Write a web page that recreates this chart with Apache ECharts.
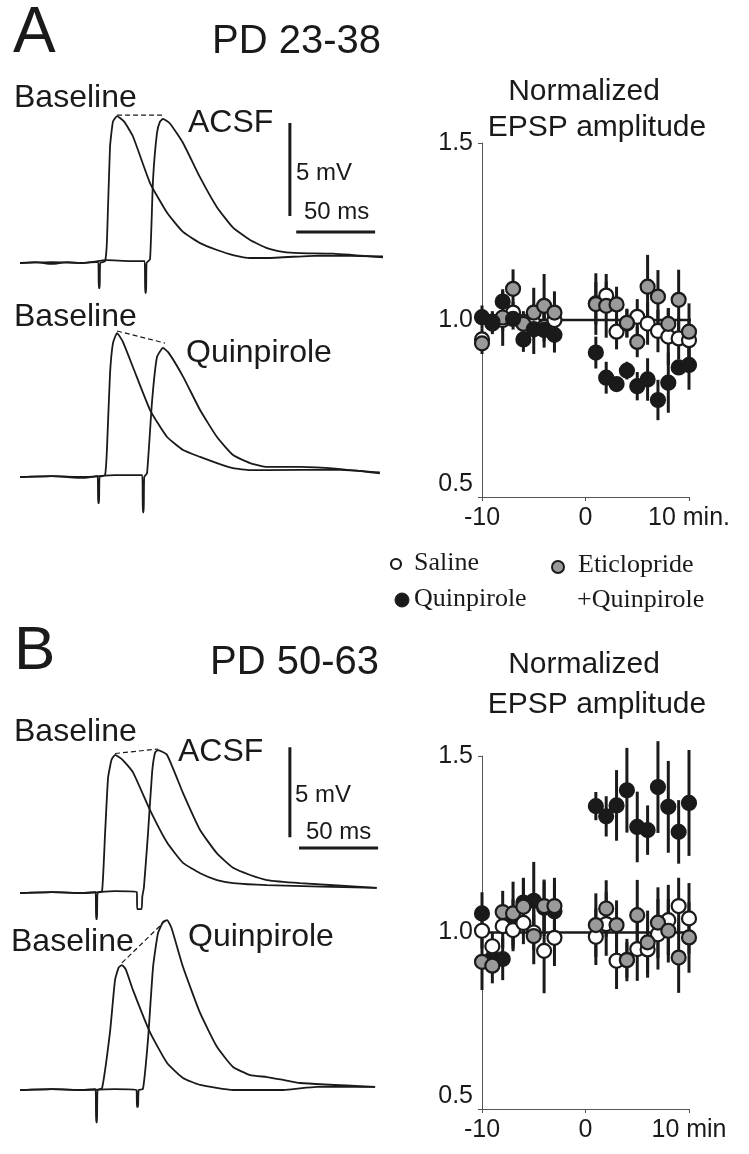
<!DOCTYPE html>
<html><head><meta charset="utf-8">
<script src="https://cdn.jsdelivr.net/npm/echarts@6/dist/echarts.min.js"></script>
<style>html,body{margin:0;padding:0;background:#fff}#c{width:749px;height:1154px}</style>
</head><body><div id="c"></div>
<script>
// ---------- DATA ----------
const minutes = [-10,-9,-8,-7,-6,-5,-4,-3,1,2,3,4,5,6,7,8,9,10];
const yTicks = [0.5, 1.0, 1.5];

// Panel A (PD 23-38)
const aSaline    = [0.945,0.99,1.0,1.021,0.995,0.99,0.98,1.0, 1.047,1.069,0.967,0.99,1.009,0.99,0.969,0.953,0.948,0.943];
const aSalineErr = [0.03,0.03,0.03,0.03,0.03,0.04,0.04,0.04, 0.06,0.04,0.05,0.04,0.05,0.06,0.06,0.08,0.06,0.06];
const aQuin      = [1.008,0.995,1.052,1.003,0.945,0.974,0.972,0.958, 0.908,0.837,0.819,0.857,0.813,0.832,0.774,0.823,0.866,0.873];
const aQuinErr   = [0.033,0.03,0.03,0.03,0.035,0.07,0.05,0.05, 0.045,0.045,0.02,0.025,0.04,0.06,0.057,0.085,0.02,0.07];
const aEtic      = [0.934,0.995,1.007,1.088,0.989,1.021,1.04,1.021, 1.045,1.04,1.044,0.992,0.938,1.094,1.066,0.989,1.057,0.967];
const aEticErr   = [0.03,0.025,0.08,0.055,0.02,0.07,0.09,0.06, 0.087,0.09,0.05,0.04,0.043,0.09,0.075,0.045,0.085,0.08];

// Panel B (PD 50-63)
const bSaline    = [1.005,0.961,1.018,1.007,1.027,1.0,0.948,0.985, 0.988,1.024,0.92,0.922,0.953,0.952,0.995,1.035,1.075,1.04];
const bSalineErr = [0.05,0.04,0.06,0.06,0.06,0.05,0.12,0.08, 0.08,0.09,0.08,0.06,0.09,0.08,0.1,0.1,0.08,0.1];
const bQuin      = [1.054,0.928,0.925,1.024,1.085,1.09,1.07,1.06, 1.358,1.329,1.36,1.403,1.299,1.29,1.412,1.356,1.285,1.367];
const bQuinErr   = [0.06,0.03,0.06,0.07,0.07,0.11,0.08,0.08, 0.04,0.057,0.1,0.12,0.1,0.07,0.13,0.13,0.09,0.15];
const bEtic      = [0.917,0.906,1.058,1.054,1.073,0.99,1.075,1.075, 1.021,1.068,1.021,0.922,1.049,0.972,1.028,1.005,0.929,0.986];
const bEticErr   = [0.08,0.05,0.06,0.09,0.08,0.08,0.07,0.08, 0.09,0.08,0.07,0.05,0.1,0.09,0.1,0.09,0.1,0.1];

// EPSP traces: [time ms, mV]
const traceA1Base = [[0,0],[10,0.05],[20,-0.05],[30,0.05],[40,0],[49.6,0.05],[49.9,-1.35],[50.5,-1.35],[50.8,0],[53.9,0.1],[55.1,1.2],[57,6.2],[58.9,7.6],[61.5,7.9],[66,7.6],[71.6,6.8],[82.4,4.3],[93.2,2.7],[103.3,1.67],[114.1,1.07],[124.8,0.7],[135,0.43],[145.8,0.27],[156.5,0.27],[190,0.4],[230,0.35]];
const traceA1Acsf = [[0,0],[20,0.05],[40,0],[55,0.15],[70,0.1],[79,0.1],[79.3,-1.6],[79.9,-1.6],[80.2,0],[82.4,0.2],[84.3,4.5],[86.8,7.0],[88.7,7.6],[90.6,7.75],[95,7.5],[103.3,6.45],[114.1,4.6],[124.8,3.0],[135,1.9],[145.8,1.24],[156.5,0.8],[166.7,0.6],[177.4,0.53],[198.4,0.5],[230,0.3]];
const dashA1 = [[61.5,7.95],[90.6,7.95]];
const traceA2Base = [[0,0],[20,0.05],[40,-0.05],[49.2,0.05],[49.5,-1.4],[50.1,-1.4],[50.4,0],[53.9,0.1],[55.1,1.5],[57,5.5],[58.9,7.2],[61.5,7.74],[65,7.3],[71.6,5.9],[82.4,3.6],[93.2,2.15],[103.3,1.45],[114.1,1.08],[124.8,0.75],[135,0.48],[145.8,0.37],[156.5,0.37],[200,0.4],[228,0.25]];
const traceA2Quin = [[0,0],[20,0.05],[40,0],[60,0.1],[77.5,0.1],[77.8,-1.9],[78.4,-1.9],[78.7,0],[80.5,0.2],[83.7,4.1],[86.8,6.45],[90.6,6.94],[94,6.7],[103.3,5.4],[114.1,3.6],[124.8,2.15],[135,1.18],[145.8,0.75],[156.5,0.54],[177.4,0.54],[200,0.45],[228,0.2]];
const dashA2 = [[61.5,7.85],[91.9,7.2]];
const traceB1Base = [[0,0],[20,0.05],[40,0],[47.9,0.05],[48.2,-1.45],[48.8,-1.45],[49.1,0],[52,0.1],[53.9,3.3],[55.8,6.4],[58,7.4],[60.2,7.67],[65,7.4],[71.6,6.7],[82.4,4.6],[93.2,2.8],[103.3,1.67],[114.1,1.1],[124.8,0.72],[135,0.55],[156.5,0.44],[226,0.28]];
const traceB1Acsf = [[0,0],[20,0.05],[40,0],[60,0.1],[74,0.05],[74.3,-0.9],[77,-0.9],[77.5,-0.2],[78.5,0.3],[81.1,3.3],[83.7,6.7],[85.6,7.8],[87.4,7.94],[93.2,7.67],[103.3,5.55],[114.1,3.5],[124.8,2.2],[135,1.4],[145.8,1.0],[156.5,0.72],[177.4,0.55],[226,0.28]];
const dashB1 = [[60.2,7.75],[87.4,8.0]];
const traceB2Base = [[0,0],[20,0.05],[40,0],[47.9,0.05],[48.2,-1.8],[48.8,-1.8],[49.1,0],[52,0.1],[57,3.2],[60.2,6.1],[62.5,6.8],[64.6,6.94],[67,6.7],[71.6,5.55],[82.4,3.2],[93.2,1.5],[103.3,0.67],[114.1,0.28],[135,0],[166.7,0],[188,0.17],[225,0.17]];
const traceB2Quin = [[0,0],[20,0.05],[40,0],[60,0.05],[73.8,0],[74.1,-0.94],[74.8,-0.94],[75.2,0],[77.9,0.05],[81.1,2.8],[84.3,6.83],[87.4,8.7],[90.6,9.33],[93.2,9.44],[96,9.0],[103.3,6.83],[114.1,4.28],[124.8,2.4],[135,1.28],[145.8,0.83],[156.5,0.72],[166.7,0.56],[177.4,0.39],[225,0.17]];
const dashB2 = [[64.6,7.06],[92.5,9.44]];

// scale bars: 5 mV and 50 ms
const scaleA_V = [[171,2.53],[171,7.53]];
const scaleA_H = [[175,1.67],[225,1.67]];
const scaleB_V = [[171,3.1],[171,8.1]];
const scaleB_H = [[176.8,2.5],[226.9,2.5]];

// ---------- CHART ----------
const INK = '#1a1a1a';
const SANS = '"Liberation Sans", Arial, sans-serif';
const SERIF = '"Liberation Serif", "Times New Roman", serif';

const chart = echarts.init(document.getElementById('c'), null, {renderer:'canvas'});

const traceGrids = [
  {left:20, top:77, width:363, height:241.8},
  {left:20, top:291, width:363, height:241.8},
  {left:20, top:713, width:363, height:234},
  {left:20, top:910, width:363, height:234}
];
const scatterGrids = [
  {left:482, top:143, width:207, height:354},
  {left:482, top:756, width:207, height:353}
];
const grids = traceGrids.concat(scatterGrids);

const xAxes = [], yAxes = [];
traceGrids.forEach((g,i)=>{
  xAxes.push({gridIndex:i, type:'value', min:0, max:230, show:false});
  yAxes.push({gridIndex:i, type:'value', min:-3, max:10, show:false});
});
[4,5].forEach((gi,k)=>{
  xAxes.push({gridIndex:gi, type:'value', min:-10, max:10, interval:10,
    axisLine:{show:true, onZero:false, lineStyle:{color:'#555', width:1}},
    axisTick:{show:true, length:4, lineStyle:{color:'#555'}},
    splitLine:{show:false},
    axisLabel:{color:INK, fontSize:25, fontFamily:SANS, margin:9,
      formatter:v=> v===10 ? (k===0 ? '10 min.' : '10 min') : String(v)}
  });
  yAxes.push({gridIndex:gi, type:'value', min:yTicks[0], max:yTicks[2], interval:0.5,
    axisLine:{show:true, onZero:false, lineStyle:{color:'#555', width:1}},
    axisTick:{show:true, length:4, lineStyle:{color:'#555'}},
    splitLine:{show:false},
    axisLabel:{color:INK, fontSize:25, fontFamily:SANS, margin:9, verticalAlignMinLabel:'bottom',
      formatter:v=>v.toFixed(1)}
  });
});

const series = [];
function trace(gi, data, opts){
  series.push(Object.assign({type:'line', xAxisIndex:gi, yAxisIndex:gi, data:data, symbol:'none',
    clip:false, silent:true, smooth:0.15,
    lineStyle:{color:INK, width:1.8}}, opts||{}));
}
function dash(gi, data){
  trace(gi, data, {smooth:false, lineStyle:{color:INK, width:1.2, type:[5,3]}});
}
function bar(gi, data){
  trace(gi, data, {smooth:false, lineStyle:{color:INK, width:3, cap:'butt'}});
}
trace(0, traceA1Base); trace(0, traceA1Acsf); dash(0, dashA1); bar(0, scaleA_V); bar(0, scaleA_H);
trace(1, traceA2Base); trace(1, traceA2Quin); dash(1, dashA2);
trace(2, traceB1Base); trace(2, traceB1Acsf); dash(2, dashB1); bar(2, scaleB_V); bar(2, scaleB_H);
trace(3, traceB2Base); trace(3, traceB2Quin); dash(3, dashB2);

function refLine(gi){
  series.push({type:'line', xAxisIndex:gi, yAxisIndex:gi, data:[[-10,1],[10.8,1]], symbol:'none',
    clip:false, silent:true, z:1, lineStyle:{color:INK, width:2.5}});
}
function errBars(gi, vals, errs){
  series.push({type:'custom', xAxisIndex:gi, yAxisIndex:gi, clip:false, silent:true, z:2,
    data: minutes.map((m,i)=>[m, vals[i]-errs[i], vals[i]+errs[i]]),
    encode:{x:0, y:[1,2]},
    renderItem:(params, api)=>{
      const p1 = api.coord([api.value(0), api.value(1)]);
      const p2 = api.coord([api.value(0), api.value(2)]);
      return {type:'line', shape:{x1:p1[0], y1:p1[1], x2:p2[0], y2:p2[1]},
        style:{stroke:INK, lineWidth:3}};
    }});
}
function dots(gi, vals, fill, z){
  series.push({type:'scatter', xAxisIndex:gi, yAxisIndex:gi, silent:true, z:z,
    data: minutes.map((m,i)=>[m, vals[i]]), symbol:'circle', symbolSize:14,
    itemStyle:{color:fill, borderColor:INK, borderWidth:2.2, opacity:1}});
}
// Panel A
refLine(4);
errBars(4, aSaline, aSalineErr); errBars(4, aEtic, aEticErr); errBars(4, aQuin, aQuinErr);
dots(4, aSaline, '#ffffff', 3); dots(4, aEtic, '#9a9a9a', 4); dots(4, aQuin, INK, 5);
// Panel B
refLine(5);
errBars(5, bQuin, bQuinErr); errBars(5, bSaline, bSalineErr); errBars(5, bEtic, bEticErr);
dots(5, bQuin, INK, 3); dots(5, bSaline, '#ffffff', 4); dots(5, bEtic, '#9a9a9a', 5);

function txt(text, x, y, size, opts){
  return Object.assign({type:'text', x:x, y:y, silent:true, z:10,
    style:Object.assign({text:text, fontSize:size, fontFamily:SANS, fill:INK,
      align:'left', verticalAlign:'middle'}, (opts&&opts.style)||{})}, (opts&&opts.el)||{});
}
const graphic = [
  txt('A', 13, 34, 64),
  txt('PD 23-38', 212, 42, 40),
  txt('Baseline', 14, 98, 32),
  txt('ACSF', 188, 123, 32),
  txt('5 mV', 296, 173, 24),
  txt('50 ms', 304, 212, 24),
  txt('Baseline', 14, 317, 32),
  txt('Quinpirole', 186, 353, 32),
  txt('Normalized', 584, 92, 30, {style:{align:'center'}}),
  txt('EPSP amplitude', 597, 128, 30, {style:{align:'center'}}),
  {type:'circle', shape:{cx:396, cy:564, r:5}, style:{fill:'#fff', stroke:INK, lineWidth:2.2}, z:10},
  {type:'circle', shape:{cx:402, cy:600, r:7}, style:{fill:INK, stroke:INK, lineWidth:1}, z:10},
  {type:'circle', shape:{cx:558, cy:567, r:6}, style:{fill:'#9a9a9a', stroke:INK, lineWidth:2}, z:10},
  txt('Saline', 414, 563, 26, {style:{fontFamily:SERIF}}),
  txt('Quinpirole', 414, 599, 26, {style:{fontFamily:SERIF}}),
  txt('Eticlopride', 578, 565, 26, {style:{fontFamily:SERIF}}),
  txt('+Quinpirole', 577, 600, 26, {style:{fontFamily:SERIF}}),
  txt('B', 14, 652, 62),
  txt('PD 50-63', 210, 663, 40),
  txt('Normalized', 584, 665, 30, {style:{align:'center'}}),
  txt('EPSP amplitude', 597, 705, 30, {style:{align:'center'}}),
  txt('Baseline', 14, 732, 32),
  txt('ACSF', 178, 752, 32),
  txt('5 mV', 295, 795, 24),
  txt('50 ms', 306, 832, 24),
  txt('Baseline', 11, 942, 32),
  txt('Quinpirole', 188, 937, 32)
];

chart.setOption({
  animation:false,
  backgroundColor:'#ffffff',
  grid: grids,
  xAxis: xAxes,
  yAxis: yAxes,
  series: series,
  graphic: graphic
});
</script></body></html>
